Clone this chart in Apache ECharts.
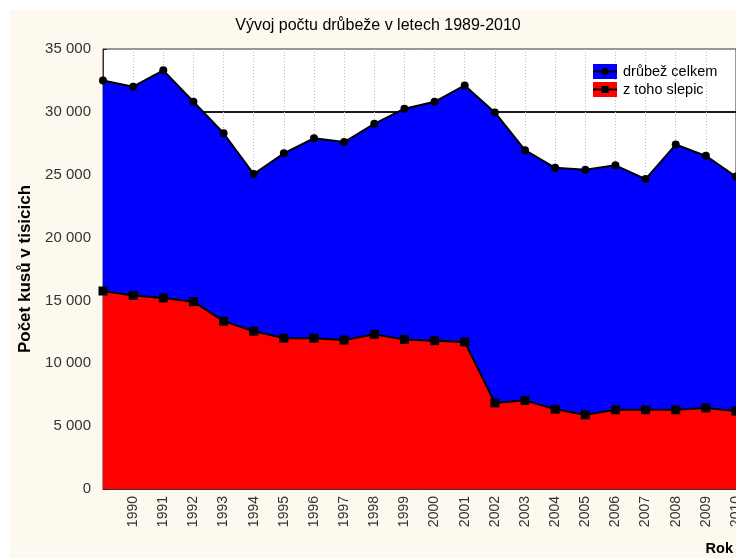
<!DOCTYPE html>
<html>
<head>
<meta charset="utf-8">
<script src="https://cdn.jsdelivr.net/npm/echarts@6/dist/echarts.min.js"></script>
<style>
html,body{margin:0;padding:0;background:#fff;}
#bg{position:absolute;left:10px;top:10px;width:726px;height:548px;background:#fdf9ef;}
#chart{position:absolute;left:0;top:0;width:736px;height:558px;}
</style>
</head>
<body>
<div id="bg"></div>
<div id="chart"></div>
<script>
const years = ['1989','1990','1991','1992','1993','1994','1995','1996','1997','1998','1999','2000','2001','2002','2003','2004','2005','2006','2007','2008','2009','2010'];
const drubezCelkem = [32500,32000,33300,30800,28300,25050,26700,27900,27600,29050,30250,30800,32100,29950,26950,25550,25400,25750,24650,27400,26500,24850];
const zTohoSlepic = [15750,15400,15200,14900,13350,12550,12000,12000,11850,12300,11900,11800,11700,6850,7050,6350,5900,6300,6300,6300,6450,6200];
const seriesNames = ['drůbež celkem','z toho slepic'];
const titleText = 'Vývoj počtu drůbeže v letech 1989-2010';
const yAxisName = 'Počet kusů v tisicich';
const xAxisName = 'Rok';
const refLineValue = 30000;

const FONT = '"Liberation Sans", Arial, sans-serif';
const chart = echarts.init(document.getElementById('chart'), null, {renderer:'canvas'});

const yMin = 0, yMax = 35000, yStep = 5000;
const splitColors = [];
for (let v = yMin; v <= yMax; v += yStep) splitColors.push(v === refLineValue ? '#1a1a1a' : 'rgba(0,0,0,0)');

chart.setOption({
  animation:false,
  backgroundColor:'transparent',
  title:{
    text:titleText, left:378, top:18, textAlign:'center', padding:0,
    textStyle:{fontFamily:FONT, fontSize:16, fontWeight:'normal', color:'#000'}
  },
  legend:{
    orient:'vertical', left:593, top:64, itemWidth:24, itemHeight:15, itemGap:3, padding:0,
    icon:'rect',
    textStyle:{fontFamily:FONT, fontSize:14.5, color:'#000', padding:[0,0,0,1]},
    data:[
      {name:seriesNames[0], itemStyle:{color:'#0000ff'}},
      {name:seriesNames[1], itemStyle:{color:'#ff0000'}}
    ],
    selectedMode:false
  },
  graphic:[
    {type:'line', shape:{x1:593,y1:71.5,x2:617,y2:71.5}, style:{stroke:'#000',lineWidth:2}, z:100},
    {type:'circle', shape:{cx:605,cy:71.5,r:3.5}, style:{fill:'#000'}, z:100},
    {type:'line', shape:{x1:593,y1:89.5,x2:617,y2:89.5}, style:{stroke:'#000',lineWidth:2}, z:100},
    {type:'rect', shape:{x:601.5,y:86,width:7,height:7}, style:{fill:'#000'}, z:100}
  ],
  grid:{
    left:103, top:49, right:0, bottom:69, show:true, backgroundColor:'#fff',
    borderColor:'#333', borderWidth:1, outerBoundsMode:'none', containLabel:false
  },
  xAxis:{
    type:'category', data:years, boundaryGap:false,
    name:xAxisName, nameLocation:'end', nameGap:0,
    nameTextStyle:{fontFamily:FONT, fontSize:14.5, fontWeight:'bold', color:'#000', align:'right', verticalAlign:'top', padding:[52,3,0,0]},
    axisLine:{show:true, lineStyle:{color:'#333', width:1}},
    axisTick:{show:true, inside:true, length:4, alignWithLabel:true, lineStyle:{color:'#222'}},
    axisLabel:{
      rotate:90, fontFamily:FONT, fontSize:14, color:'#333', margin:7,
      interval:0, hideOverlap:false,
      formatter:function(v, i){ return i === 0 ? '' : v; }
    },
    splitLine:{show:true, lineStyle:{color:'#bbb', type:[1,2], width:1}}
  },
  yAxis:{
    type:'value', min:yMin, max:yMax, interval:yStep,
    name:yAxisName, nameLocation:'middle', nameGap:63, nameRotate:90,
    nameTextStyle:{fontFamily:FONT, fontSize:17, fontWeight:'bold', color:'#000'},
    axisLine:{show:true, lineStyle:{color:'#333', width:1}},
    axisTick:{show:true, inside:true, length:4, lineStyle:{color:'#222'}},
    axisLabel:{
      fontFamily:FONT, fontSize:15, color:'#333', margin:12,
      formatter:function(v){ return String(v).replace(/\B(?=(\d{3})+(?!\d))/g,' '); }
    },
    splitLine:{show:true, lineStyle:{color:splitColors, width:2}}
  },
  series:[
    {
      name:seriesNames[0], type:'line', data:drubezCelkem,
      symbol:'circle', symbolSize:8,
      itemStyle:{color:'#000'},
      lineStyle:{color:'#000', width:2},
      areaStyle:{color:'#0000ff', opacity:1},
      z:2
    },
    {
      name:seriesNames[1], type:'line', data:zTohoSlepic,
      symbol:'rect', symbolSize:9,
      itemStyle:{color:'#000'},
      lineStyle:{color:'#000', width:2},
      areaStyle:{color:'#ff0000', opacity:1},
      z:3
    }
  ]
});
</script>
</body>
</html>
